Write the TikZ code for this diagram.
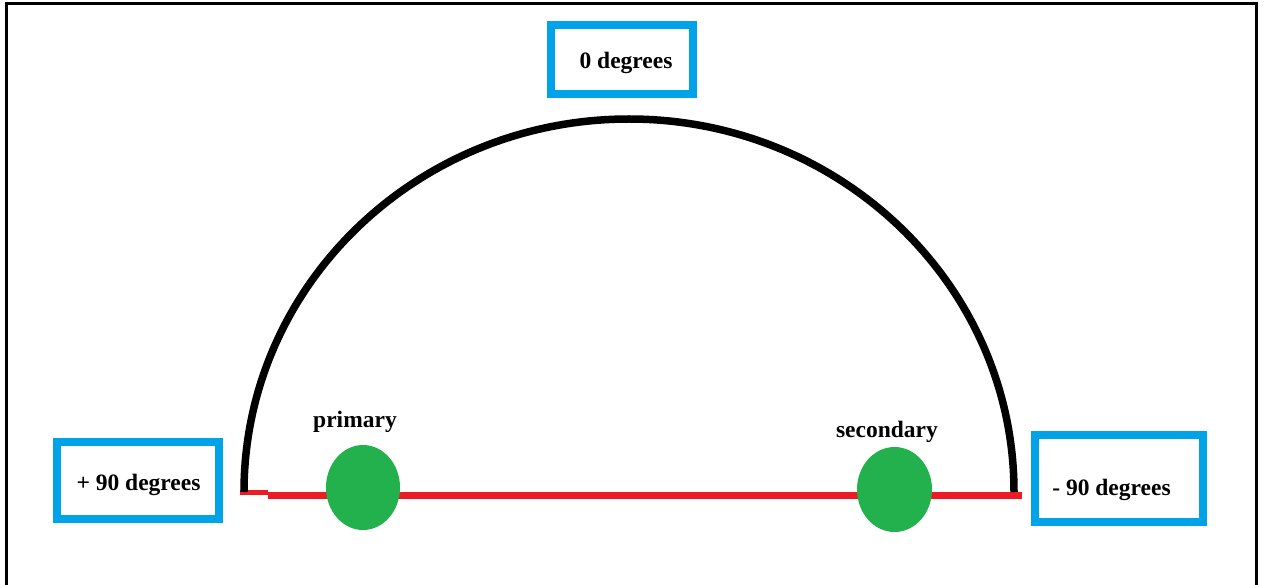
\documentclass[tikz,border=0pt]{standalone}
\usepackage{fontspec}
\setmainfont{Liberation Serif}
\definecolor{pblue}{RGB}{0,162,232}
\definecolor{pred}{RGB}{237,28,36}
\definecolor{pgreen}{RGB}{34,177,76}
\begin{document}
\begin{tikzpicture}[x=1pt,y=-1pt,
  bluebox/.style={draw=pblue,line width=8pt,inner sep=0pt,fill=white},
  lbl/.style={inner sep=0pt,font=\fontsize{23.5}{26}\selectfont\bfseries}]
\useasboundingbox (0,0) rectangle (1264,585);
\fill[white] (0,0) rectangle (1264,585);
\draw[line width=3pt] (6,600) -- (6,3.5) -- (1256,3.5) -- (1256,600);
% baseline
\coordinate (r1) at (240,492.5);
\coordinate (r2) at (268,492.5);
\coordinate (r3) at (268,495.5);
\coordinate (r4) at (1022,495.5);
\draw[pred,line width=5pt] (r1) -- (r2);
\draw[pred,line width=6.5pt] (r3) -- (r4);
% arc
\coordinate (aL) at (244,492);
\draw[line width=7.5pt] (aL) arc[start angle=180,end angle=360,x radius=385,y radius=373];
% boxes
\node[bluebox,minimum width=142pt,minimum height=69pt] (b0) at (622,59.5) {};
\node[lbl] (t0) at (626,63) {0 degrees};
\node[bluebox,minimum width=162pt,minimum height=77pt] (bL) at (138,480.5) {};
\node[lbl] (tL) at (138.5,485) {+ 90 degrees};
\node[bluebox,minimum width=168pt,minimum height=87pt] (bR) at (1119,478.5) {};
\node[lbl] (tR) at (1111.5,490) {- 90 degrees};
% dots
\fill[pgreen] (363,487.5) ellipse[x radius=37,y radius=42.5];
\fill[pgreen] (894.5,489.5) ellipse[x radius=37.5,y radius=42.5];
\node[lbl] (tp) at (355,422) {primary};
\node[lbl] (ts) at (887,432) {secondary};
\end{tikzpicture}
\end{document}
